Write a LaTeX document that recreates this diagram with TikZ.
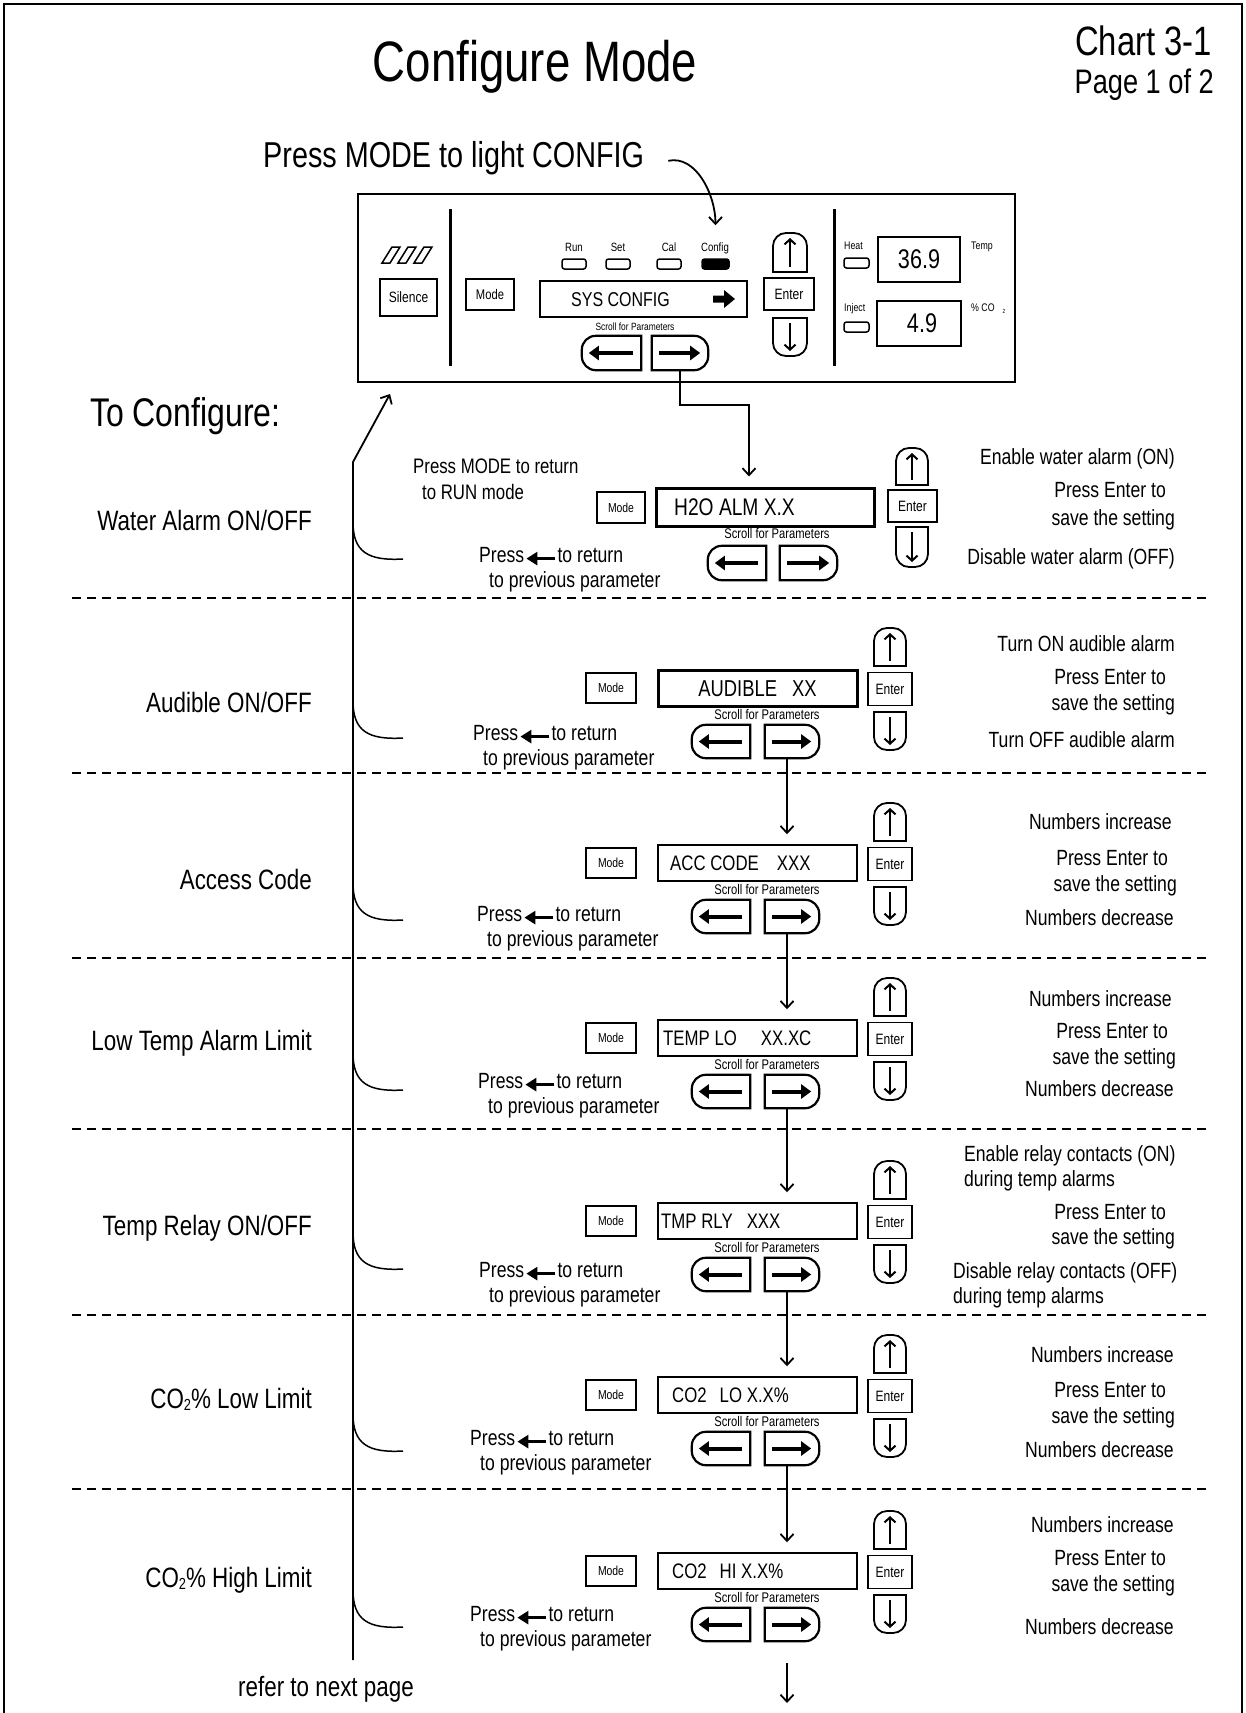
\documentclass[tikz,border=0pt]{standalone}
\usepackage{fontspec}
\setmainfont{Liberation Sans}[FakeStretch=0.8]
\usetikzlibrary{arrows.meta}
\newcommand\myfs[1]{\fontsize{#1}{#1}\selectfont}
% up / down buttons: cx, cy, half width, half height
\newcommand\upbtn[4]{%
  \draw[ubline] ({#1-#3},{#2+#4}) [rounded corners=13pt] -- ({#1-#3},{#2-#4}) -- ({#1+#3},{#2-#4}) [sharp corners] -- ({#1+#3},{#2+#4}) -- cycle;
  \draw[thinarr] (#1,{#2+#4-5}) -- (#1,{#2-#4+5});}
\newcommand\downbtn[4]{%
  \draw[ubline] ({#1-#3},{#2-#4}) [rounded corners=13pt] -- ({#1-#3},{#2+#4}) -- ({#1+#3},{#2+#4}) [sharp corners] -- ({#1+#3},{#2-#4}) -- cycle;
  \draw[thinarr] (#1,{#2-#4+5}) -- (#1,{#2+#4-5});}
\newcommand\lshape[1]{%
  \draw[sline] (#1.north east) [rounded corners=14pt] -- (#1.north west) -- (#1.south west) [sharp corners] -- (#1.south east) -- cycle;
  \draw[fatarr] ([xshift=-8pt]#1.east) -- ([xshift=7pt]#1.west);}
\newcommand\rshape[1]{%
  \draw[sline] (#1.north west) [rounded corners=14pt] -- (#1.north east) -- (#1.south east) [sharp corners] -- (#1.south west) -- cycle;
  \draw[fatarr] ([xshift=7pt]#1.west) -- ([xshift=-8pt]#1.east);}
% parameter row: id, centre y, display line width
\newcommand\prow[3]{%
  \node[box, minimum width=50pt, minimum height=30pt, font=\myfs{13}] (m#1) at (611,#2) {Mode};
  \node[draw, line width=#3, minimum width=199pt, minimum height=36pt, inner sep=0pt] (d#1) at (757.5,#2) {};
  \node[box, minimum width=44pt, minimum height=33pt, font=\myfs{15}] (e#1) at (890,{#2+1}) {Enter};
  \upbtn{890}{#2-41}{16}{19}
  \downbtn{890}{#2+43}{16}{19}
  \node[txt, font=\myfs{14}] at (767,{#2+29}) {Scroll for Parameters};
  \node[sbtn, minimum width=58pt] (l#1) at (721,{#2+53.5}) {};
  \node[sbtn, minimum width=54pt] (r#1) at (792,{#2+53.5}) {};
  \lshape{l#1}\rshape{r#1}}
% "Press <- to return / to previous parameter": id, x, y
\newcommand\pressret[3]{%
  \node[txt, fz=22, anchor=mid west] (pr#1) at (#2,#3) {Press};
  \draw[fatarrb] ([xshift=31pt,yshift=1pt]pr#1.mid east) -- ([xshift=2pt,yshift=1pt]pr#1.mid east);
  \node[txt, font=\myfs{22}, anchor=mid west] at ([xshift=33pt]pr#1.mid east) {to return};
  \node[txt, fz=22, anchor=mid west] at ({#2+10},{#3+25}) {to previous parameter};}
\newcommand\hookc[1]{%
  \draw[hookline] (353,{#1-38}) .. controls (353,{#1-8}) and (368,{#1+1}) .. (403,{#1-1});}
\begin{document}
\begin{tikzpicture}[x=1pt,y=-1pt,
  txt/.style={inner sep=0pt, anchor=mid},
  fz/.style={font=\myfs{#1}, yshift={-0.3*#1}},
  lbl/.style={txt, fz=28, anchor=mid east},
  side/.style={txt, fz=22},
  box/.style={draw, line width=1.5pt, inner sep=0pt},
  led/.style={draw, line width=1.5pt, rounded corners=2.5pt, minimum width=24pt, minimum height=10pt, inner sep=0pt},
  sbtn/.style={inner sep=0pt, minimum height=33pt},
  sline/.style={line width=2.2pt},
  ubline/.style={line width=1.8pt},
  thinarr/.style={line width=2pt, -{Straight Barb[length=5pt,width=11pt]}},
  fatarr/.style={line width=4pt, -{Triangle[length=10pt,width=14pt]}},
  fatarrb/.style={line width=3.5pt, -{Triangle[length=11pt,width=13pt]}},
  conn/.style={line width=1.8pt, -{Straight Barb[length=7pt,width=13pt]}},
  hookline/.style={line width=1.5pt},
  sep/.style={line width=1.5pt, dash pattern=on 9pt off 6pt}]
\useasboundingbox (0,0) rectangle (1246,1713);
\fill[white] (0,0) rectangle (1246,1713);
\draw[line width=2.5pt] (4,1725) -- (4,4) -- (1242,4) -- (1242,1725);

% header
\node[txt, fz=57] (title) at (535,62) {Configure Mode};
\node[txt, fz=41, anchor=mid east] (chart) at (1212,41) {Chart 3-1};
\node[txt, fz=34, anchor=mid east] (page) at (1214,81) {Page 1 of 2};
\node[txt, fz=36, anchor=mid west] (pm) at (263,154) {Press MODE to light CONFIG};
\node[txt, fz=40, anchor=mid west] (tocfg) at (90,412) {To Configure:};

% front panel
\node[draw, line width=2pt, minimum width=657pt, minimum height=188pt, inner sep=0pt] (panel) at (686.5,288) {};
\draw[line width=3pt] (450,209) -- (450,366);
\draw[line width=3pt] (834,209) -- (834,366);
\foreach \i in {0,1,2}
  \draw[line width=1.5pt] ({392+16*\i},247) -- ({400+16*\i},247) -- ({390+16*\i},263) -- ({382+16*\i},263) -- cycle;
\node[box, minimum width=57pt, minimum height=37pt, font=\myfs{15}] (sil) at (408.5,297.5) {Silence};
\node[box, minimum width=48pt, minimum height=31pt, font=\myfs{14}] (pmode) at (490,294.5) {Mode};
\node[txt, font=\myfs{12}] at (574,249) {Run};
\node[txt, font=\myfs{12}] at (618,249) {Set};
\node[txt, font=\myfs{12}] at (669,249) {Cal};
\node[txt, font=\myfs{12}] at (715,249) {Config};
\node[led] (ledrun) at (574,264) {};
\node[led] (ledset) at (618,264) {};
\node[led] (ledcal) at (669,264) {};
\node[led, fill=black, minimum width=27pt] (ledcfg) at (715.5,264) {};
\node[draw, line width=2pt, minimum width=207pt, minimum height=36pt, inner sep=0pt] (pdisp) at (643.5,299) {};
\node[txt, fz=20, anchor=mid west] at (571,298) {SYS CONFIG};
\fill (713,295.5) -- (724,295.5) -- (724,290) -- (735,299) -- (724,308) -- (724,302.5) -- (713,302.5) -- cycle;
\node[txt, font=\myfs{10.5}] at (635,328) {Scroll for Parameters};
\node[sbtn, minimum width=59pt, minimum height=34pt] (lp) at (611.5,353) {};
\node[sbtn, minimum width=56pt, minimum height=34pt] (rp) at (680,353) {};
\lshape{lp}\rshape{rp}
\upbtn{790}{252.5}{17}{19.5}
\node[box, minimum width=50pt, minimum height=32pt, font=\myfs{15}] (pent) at (789,294) {Enter};
\downbtn{790}{337}{17}{19}
\node[txt, font=\myfs{11}, anchor=mid west] at (844,247) {Heat};
\node[led, minimum width=25pt] (ledheat) at (856.5,263) {};
\node[box, minimum width=82pt, minimum height=45pt, font=\myfs{27}] (tempbox) at (919,259.5) {36.9};
\node[txt, font=\myfs{11}, anchor=mid west] at (971,247) {Temp};
\node[txt, font=\myfs{11}, anchor=mid west] at (844,309) {Inject};
\node[led, minimum width=25pt] (ledinj) at (856.5,327) {};
\node[box, line width=2.5pt, minimum width=84pt, minimum height=45pt, font=\myfs{27}] (co2box) at (919,323.5) {\hspace{6pt}4.9};
\node[txt, font=\myfs{11}, anchor=mid west] at (971,309) {\% CO\hspace{8pt}\raisebox{-2pt}{\myfs{6}2}};

\draw[conn] ([xshift=24pt,yshift=4pt]pm.mid east) .. controls +(28,-6) and +(0,-30) .. ([yshift=33pt]ledcfg.north);

% row 1 : water alarm
\node[txt, fz=21, anchor=mid west] at (413,465) {Press MODE to return};
\node[txt, fz=21, anchor=mid west] at (422,491) {to RUN mode};
\node[box, minimum width=48pt, minimum height=31pt, font=\myfs{13}] (m1) at (621,507.5) {Mode};
\node[draw, line width=3pt, minimum width=218pt, minimum height=38pt, inner sep=0pt] (d1) at (765,507) {};
\node[txt, fz=24, anchor=mid west] at (674,506) {H2O ALM X.X};
\node[box, minimum width=49pt, minimum height=32pt, font=\myfs{15}] (e1) at (912.5,506) {Enter};
\upbtn{912}{466.5}{16}{18.5}
\downbtn{912}{547}{16}{20}
\node[txt, font=\myfs{14}] at (777,536) {Scroll for Parameters};
\node[sbtn, minimum width=58pt, minimum height=34pt] (l1) at (737,563) {};
\node[sbtn, minimum width=57pt, minimum height=34pt] (r1) at (808.5,563) {};
\lshape{l1}\rshape{r1}
\pressret{1}{479}{553}
\node[side, anchor=mid east] at (1175,455) {Enable water alarm (ON)};
\node[side, anchor=mid east] at (1166,488) {Press Enter to};
\node[side, anchor=mid east] at (1175,516) {save the setting};
\node[side, anchor=mid east] at (1175,555) {Disable water alarm (OFF)};
\node[lbl] at (312,519) {Water Alarm ON/OFF};
\hookc{560}
\coordinate (c1a) at (749,405);
\draw[conn, shorten >=10pt] (rp.south) |- (c1a) -- (c1a |- d1.north);

\draw[sep] (72,598) -- (1210,598);

% row 2 : audible
\prow{2}{688}{3pt}
\node[txt, fz=23] at (757.5,687) {AUDIBLE\hspace{15pt}XX};
\pressret{2}{473}{731}
\node[side, anchor=mid east] at (1175,642) {Turn ON audible alarm};
\node[side, anchor=mid east] at (1166,675) {Press Enter to};
\node[side, anchor=mid east] at (1175,701) {save the setting};
\node[side, anchor=mid east] at (1175,738) {Turn OFF audible alarm};
\node[lbl] at (312,701) {Audible ON/OFF};
\hookc{739}

\draw[sep] (72,773) -- (1210,773);

% row 3 : access code
\prow{3}{863}{1.5pt}
\node[txt, fz=21, anchor=mid west] at (670,862) {ACC CODE\hspace{18pt}XXX};
\pressret{3}{477}{912}
\node[side, anchor=mid east] at (1172,820) {Numbers increase};
\node[side, anchor=mid east] at (1168,856) {Press Enter to};
\node[side, anchor=mid east] at (1177,882) {save the setting};
\node[side, anchor=mid east] at (1174,916) {Numbers decrease};
\node[lbl] at (312,878) {Access Code};
\hookc{921}

\draw[sep] (72,958) -- (1210,958);

% row 4 : low temp
\prow{4}{1038}{1.5pt}
\node[txt, fz=21, anchor=mid west] at (663,1037) {TEMP LO\hspace{24pt}XX.XC};
\pressret{4}{478}{1079}
\node[side, anchor=mid east] at (1172,997) {Numbers increase};
\node[side, anchor=mid east] at (1168,1029) {Press Enter to};
\node[side, anchor=mid east] at (1176,1055) {save the setting};
\node[side, anchor=mid east] at (1174,1087) {Numbers decrease};
\node[lbl] at (312,1039) {Low Temp Alarm Limit};
\hookc{1091}

\draw[sep] (72,1129) -- (1210,1129);

% row 5 : temp relay
\prow{5}{1221}{1.5pt}
\node[txt, fz=21, anchor=mid west] at (661,1220) {TMP RLY\hspace{14pt}XXX};
\pressret{5}{479}{1268}
\node[side, anchor=mid west] at (964,1152) {Enable relay contacts (ON)};
\node[side, anchor=mid west] at (964,1177) {during temp alarms};
\node[side, anchor=mid east] at (1166,1210) {Press Enter to};
\node[side, anchor=mid east] at (1175,1235) {save the setting};
\node[side, anchor=mid west] at (953,1269) {Disable relay contacts (OFF)};
\node[side, anchor=mid west] at (953,1294) {during temp alarms};
\node[lbl] at (312,1224) {Temp Relay ON/OFF};
\hookc{1270}

\draw[sep] (72,1315) -- (1210,1315);

% row 6 : CO2 low
\prow{6}{1395}{1.5pt}
\node[txt, fz=21, anchor=mid west] at (672,1394) {CO2\hspace{13pt}LO X.X\%};
\pressret{6}{470}{1436}
\node[side, anchor=mid east] at (1174,1353) {Numbers increase};
\node[side, anchor=mid east] at (1166,1388) {Press Enter to};
\node[side, anchor=mid east] at (1175,1414) {save the setting};
\node[side, anchor=mid east] at (1174,1448) {Numbers decrease};
\node[lbl] at (312,1397) {CO\raisebox{-2pt}{\myfs{16}2}\% Low Limit};
\hookc{1452}

\draw[sep] (72,1489) -- (1210,1489);

% row 7 : CO2 high
\prow{7}{1571}{1.5pt}
\node[txt, fz=21, anchor=mid west] at (672,1570) {CO2\hspace{13pt}HI X.X\%};
\pressret{7}{470}{1612}
\node[side, anchor=mid east] at (1174,1523) {Numbers increase};
\node[side, anchor=mid east] at (1166,1556) {Press Enter to};
\node[side, anchor=mid east] at (1175,1582) {save the setting};
\node[side, anchor=mid east] at (1174,1625) {Numbers decrease};
\node[lbl] at (312,1576) {CO\raisebox{-2pt}{\myfs{16}2}\% High Limit};
\hookc{1628}

% connectors between rows
\foreach \a/\b in {2/3,3/4,4/5,5/6,6/7}
  \draw[conn, shorten >=10pt] ([xshift=-5pt]r\a.south) -- ([xshift=-5pt]r\a.south |- d\b.north);
\coordinate (endc) at (787,1703);
\draw[conn] ([xshift=-5pt,yshift=-22pt]r7.south) -- (endc);

% return line to panel
\coordinate (rlbot) at (353,1660);
\coordinate (rltop) at (353,462);
\coordinate (rltip) at (390,394);
\draw[conn] (rlbot) -- (rltop) -- (rltip);
\node[txt, fz=28, anchor=mid west] (next) at (238,1685) {refer to next page};
\end{tikzpicture}
\end{document}
